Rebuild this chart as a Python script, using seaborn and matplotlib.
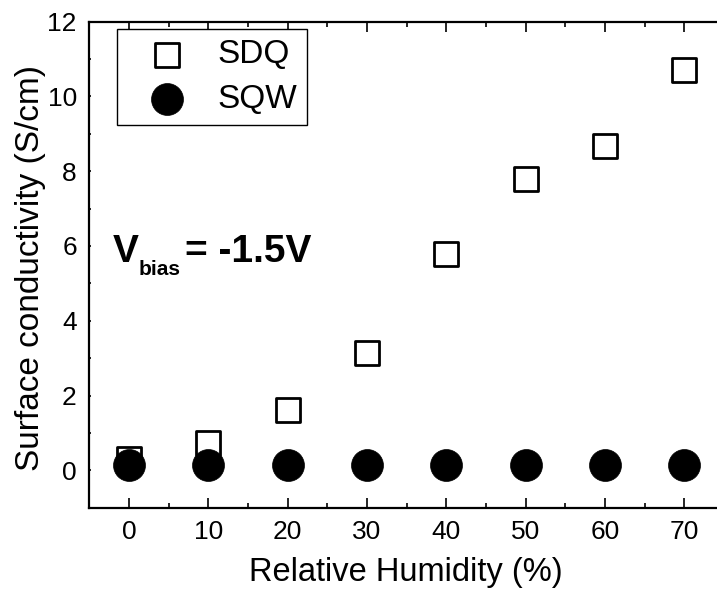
import numpy as np
import pandas as pd
import matplotlib
matplotlib.use("Agg")
import matplotlib.pyplot as plt
import seaborn as sns
from matplotlib.ticker import MultipleLocator

# ---------------------------------------------------------------------------
# Data
# ---------------------------------------------------------------------------
humidity = [0, 10, 20, 30, 40, 50, 60, 70]
sdq = [0.31, 0.73, 1.62, 3.13, 5.78, 7.78, 8.68, 10.7]
sqw = [0.13, 0.13, 0.13, 0.13, 0.13, 0.13, 0.13, 0.15]

df = pd.DataFrame({"rh": humidity, "SDQ": sdq, "SQW": sqw})

# ---------------------------------------------------------------------------
# Style
# ---------------------------------------------------------------------------
sns.set_style("ticks")
plt.rcParams["font.family"] = ["Liberation Sans", "DejaVu Sans"]
plt.rcParams["text.color"] = "black"
plt.rcParams["axes.labelcolor"] = "black"
plt.rcParams["xtick.color"] = "black"
plt.rcParams["ytick.color"] = "black"

fig = plt.figure(figsize=(7.17, 5.92), dpi=100)
ax = fig.add_axes([0.1245, 0.1424, 0.8755, 0.821])

sns.scatterplot(data=df, x="rh", y="SDQ", marker="s", s=17.5 ** 2,
                facecolor="white", edgecolor="black", linewidth=2,
                label="SDQ", ax=ax, zorder=2)
sns.scatterplot(data=df, x="rh", y="SQW", marker="o", s=23 ** 2,
                color="black", edgecolor="black", linewidth=0.5,
                label="SQW", ax=ax, zorder=3)

ax.set_xlim(-5, 74.1)
ax.set_ylim(-1, 12)
ax.xaxis.set_major_locator(MultipleLocator(10))
ax.xaxis.set_minor_locator(MultipleLocator(5))
ax.yaxis.set_major_locator(MultipleLocator(2))
ax.yaxis.set_minor_locator(MultipleLocator(1))

for side in ["left", "bottom", "top"]:
    ax.spines[side].set_linewidth(1.6)
    ax.spines[side].set_color("black")
ax.spines["right"].set_visible(False)

ax.tick_params(which="major", direction="in", length=7, width=1.2,
               labelsize=19, pad=9, colors="black")
ax.tick_params(which="minor", direction="in", length=3.5, width=1.2)
ax.tick_params(top=True, which="both", length=1.5)
ax.tick_params(axis="x", which="major", bottom=True, length=7)
ax.tick_params(axis="x", which="minor", bottom=True, length=3.5)

ax.set_xlabel("Relative Humidity (%)", fontsize=23.5)
ax.set_ylabel("Surface conductivity (S/cm)", fontsize=24)
ax.xaxis.set_label_coords(0.505, -0.102)
ax.yaxis.set_label_coords(-0.069, 0.493)

# V_bias annotation, drawn as three pieces so the subscript sits low
anchor = (0.0378, 0.506)
ax.annotate("V", xy=anchor, xycoords="axes fraction", fontsize=28,
            fontweight="bold", ha="left", va="baseline")
ax.annotate("bias", xy=anchor, xycoords="axes fraction",
            xytext=(26, -13), textcoords="offset pixels", fontsize=15,
            fontweight="bold", ha="left", va="baseline")
ax.annotate("= -1.5V", xy=anchor, xycoords="axes fraction",
            xytext=(72, 0), textcoords="offset pixels", fontsize=28,
            fontweight="bold", ha="left", va="baseline")

leg = ax.legend(loc="upper left", bbox_to_anchor=(0.0446, 0.984),
                borderaxespad=0, fontsize=24, frameon=True, fancybox=False,
                handletextpad=0.3, borderpad=0.3, labelspacing=0.4,
                handlelength=2.4)
leg.get_frame().set_edgecolor("black")
leg.get_frame().set_linewidth(1.0)
leg.get_frame().set_alpha(1)

fig.savefig("out.png", dpi=100)
plt.close(fig)
